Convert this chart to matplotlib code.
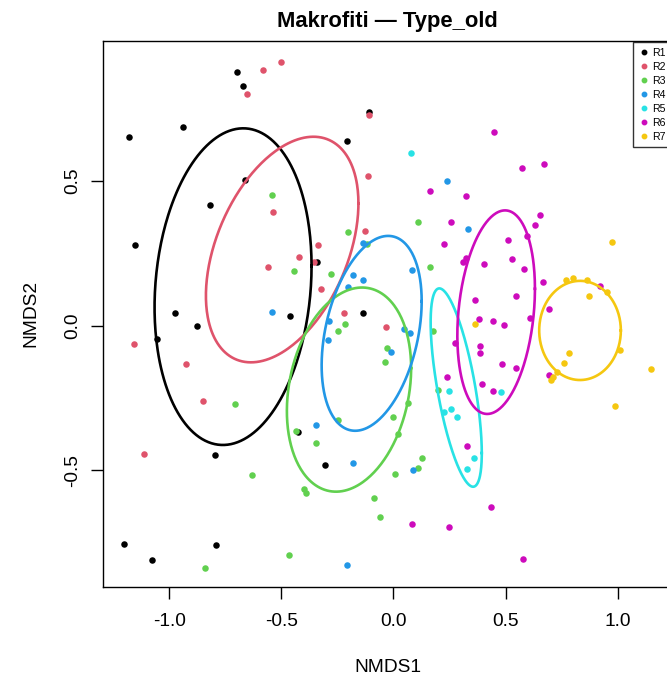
import numpy as np
import matplotlib
matplotlib.use("Agg")
import matplotlib.pyplot as plt

plt.rcParams['font.family'] = ['Liberation Sans', 'DejaVu Sans']

groups = ["R1", "R2", "R3", "R4", "R5", "R6", "R7"]
colors = ["#000000", "#DF536B", "#61D04F", "#2297E6", "#28E2E5", "#CD0BBC", "#F5C710"]

# NMDS scores
r1_x = [-0.699, -0.669, -1.179, -0.937, -0.107, -0.208, -0.662, -0.818, -1.153, -0.339,
        -0.975, -0.460, -0.134, -0.877, -1.055, -0.425, -0.795, -0.305, -1.201, -1.078, -0.792]
r1_y = [0.873, 0.826, 0.651, 0.683, 0.737, 0.635, 0.502, 0.414, 0.276, 0.218,
        0.044, 0.032, 0.044, 0.000, -0.047, -0.367, -0.447, -0.482, -0.755, -0.808, -0.757]

r2_x = [-0.580, -0.501, -0.653, -0.110, -0.112, -0.535, -0.127, -0.336, -0.421, -0.354,
        -0.558, -0.321, -0.219, -0.034, -1.157, -0.925, -0.849, -1.113]
r2_y = [0.880, 0.909, 0.800, 0.727, 0.514, 0.391, 0.327, 0.276, 0.237, 0.218,
        0.203, 0.125, 0.042, -0.004, -0.064, -0.133, -0.261, -0.443]

r3_x = [-0.543, -0.201, 0.111, -0.116, -0.445, -0.277, 0.162, -0.216, -0.248, -0.030,
        -0.036, 0.178, -0.708, -0.434, -0.247, -0.346, 0.199, 0.064, -0.003, 0.019,
        0.126, 0.108, 0.006, -0.632, -0.400, -0.388, -0.085, -0.060, -0.464, -0.840]
r3_y = [0.449, 0.321, 0.357, 0.280, 0.188, 0.177, 0.203, 0.005, -0.020, -0.079,
        -0.125, -0.020, -0.272, -0.363, -0.326, -0.406, -0.224, -0.266, -0.314, -0.373,
        -0.458, -0.491, -0.511, -0.517, -0.563, -0.576, -0.596, -0.659, -0.791, -0.835]

r4_x = [-0.540, -0.134, -0.181, -0.134, -0.201, 0.081, -0.288, -0.293, 0.047, 0.074,
        -0.011, -0.345, -0.179, -0.208, 0.089, 0.240, 0.333]
r4_y = [0.046, 0.286, 0.173, 0.157, 0.134, 0.191, 0.014, -0.050, -0.011, -0.027,
        -0.090, -0.343, -0.475, -0.826, -0.497, 0.498, 0.333]

r5_x = [0.078, 0.248, 0.478, 0.257, 0.227, 0.285, 0.361, 0.327]
r5_y = [0.594, -0.225, -0.228, -0.289, -0.298, -0.317, -0.458, -0.495]

r6_x = [0.450, 0.573, 0.670, 0.162, 0.325, 0.255, 0.655, 0.633, 0.224, 0.510,
        0.594, 0.324, 0.312, 0.405, 0.529, 0.581, 0.667, 0.548, 0.364, 0.921,
        0.694, 0.383, 0.444, 0.492, 0.610, 0.273, 0.386, 0.386, 0.484, 0.545,
        0.238, 0.395, 0.444, 0.695, 0.330, 0.437, 0.084, 0.246, 0.579]
r6_y = [0.666, 0.544, 0.556, 0.464, 0.447, 0.356, 0.380, 0.346, 0.282, 0.296,
        0.308, 0.232, 0.218, 0.211, 0.228, 0.194, 0.149, 0.103, 0.087, 0.137,
        0.058, 0.022, 0.016, 0.002, 0.025, -0.059, -0.071, -0.094, -0.132, -0.145,
        -0.178, -0.200, -0.227, -0.172, -0.416, -0.627, -0.683, -0.694, -0.805]

r7_x = [0.976, 0.768, 0.802, 0.862, 0.951, 0.873, 0.364, 1.010, 0.784, 0.759,
        0.728, 0.713, 0.703, 1.147, 0.989]
r7_y = [0.289, 0.157, 0.163, 0.157, 0.117, 0.103, 0.005, -0.084, -0.096, -0.130,
        -0.161, -0.177, -0.188, -0.151, -0.278]

xs = [r1_x, r2_x, r3_x, r4_x, r5_x, r6_x, r7_x]
ys = [r1_y, r2_y, r3_y, r4_y, r5_y, r6_y, r7_y]

# group ellipses: centre, spread along each axis, correlation
ell_cx = [-0.715, -0.496, -0.198, -0.097, 0.280, 0.458, 0.832]
ell_cy = [0.134, 0.262, -0.221, -0.027, -0.214, 0.046, -0.017]
ell_sx = [0.350, 0.340, 0.277, 0.223, 0.114, 0.173, 0.182]
ell_sy = [0.546, 0.389, 0.352, 0.336, 0.342, 0.351, 0.171]
ell_r = [0.13, 0.41, 0.21, 0.33, -0.66, 0.23, 0.0]

fig = plt.figure(figsize=(6.67, 6.8), dpi=100)
ax = fig.add_axes([0.1537, 0.1368, 0.8553, 0.8036])

for i in range(len(groups)):
    ax.scatter(xs[i], ys[i], s=22, color=colors[i], linewidths=0, zorder=3)

t = np.linspace(0, 2 * np.pi, 300)
for i in range(len(groups)):
    cov = np.array([[ell_sx[i] ** 2, ell_r[i] * ell_sx[i] * ell_sy[i]],
                    [ell_r[i] * ell_sx[i] * ell_sy[i], ell_sy[i] ** 2]])
    L = np.linalg.cholesky(cov)
    pts = L @ np.vstack([np.cos(t), np.sin(t)])
    ax.plot(ell_cx[i] + pts[0], ell_cy[i] + pts[1], color=colors[i], lw=1.9, zorder=4)

ax.set_xlim(-1.297, 1.2466)
ax.set_ylim(-0.9017, 0.9828)
ax.set_xticks([-1.0, -0.5, 0.0, 0.5, 1.0])
ax.set_yticks([-0.5, 0.0, 0.5])
ax.set_xticklabels(["-1.0", "-0.5", "0.0", "0.5", "1.0"])
ax.set_yticklabels(["-0.5", "0.0", "0.5"], rotation=90, va="center")
ax.tick_params(length=8.5, width=1, labelsize=13.8)
ax.tick_params(axis="x", pad=10)
ax.tick_params(axis="y", pad=7)
for sp in ax.spines.values():
    sp.set_linewidth(1.0)

ax.set_xlabel("NMDS1", fontsize=13.8, labelpad=21)
ax.set_ylabel("NMDS2", fontsize=13.8, labelpad=18)
ax.set_title("Makrofiti \u2014 Type_old", fontsize=15.8, fontweight="bold", pad=10)

handles = [plt.Line2D([], [], ls="", marker="o", ms=3.2, color=c) for c in colors]
leg = ax.legend(handles, groups, loc="upper left", bbox_to_anchor=(632.7 / 667, 1 - 41.7 / 680),
                bbox_transform=fig.transFigure, borderaxespad=0, fontsize=7.6,
                frameon=True, fancybox=False, labelspacing=0.38, handletextpad=0.3,
                handlelength=1.0, borderpad=0.55)
leg.get_frame().set_edgecolor("black")
leg.get_frame().set_linewidth(1.0)

fig.savefig("out.png", dpi=100)
